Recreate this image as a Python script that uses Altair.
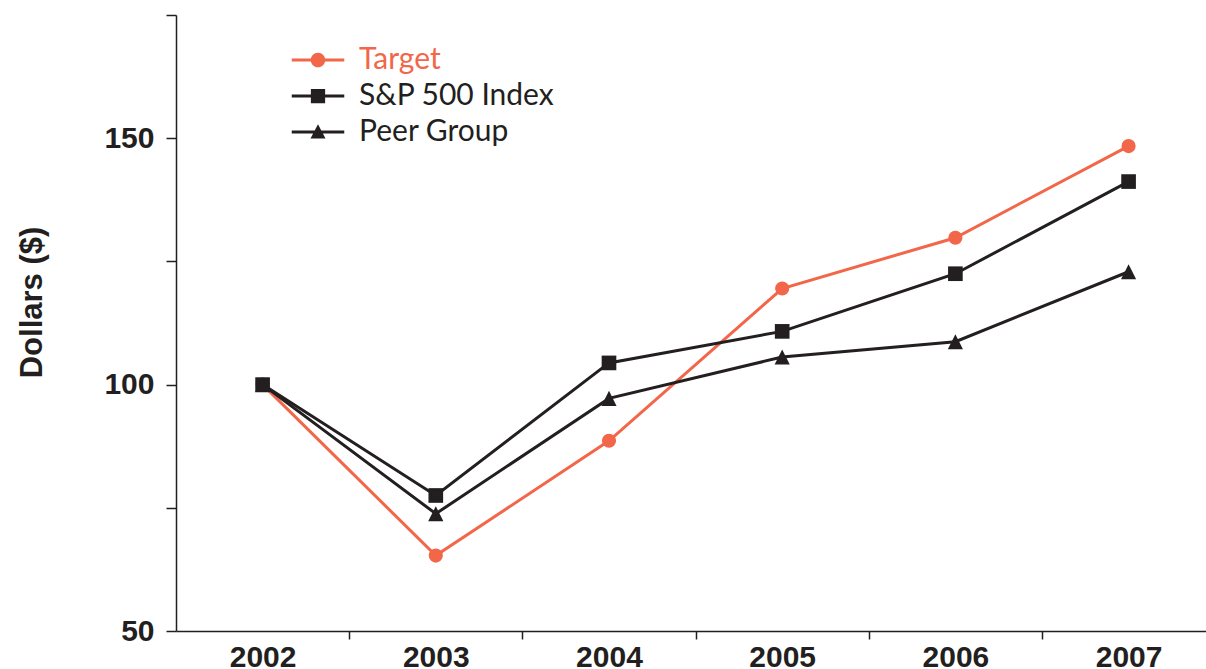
import altair as alt
import pandas as pd

years = [2002, 2003, 2004, 2005, 2006, 2007]
target = [100, 65.3, 88.6, 119.5, 129.8, 148.4]
sp500 = [100, 77.5, 104.4, 110.8, 122.5, 141.2]
peer = [100, 73.8, 97.2, 105.6, 108.7, 122.9]

series_names = ["Target", "S&P 500 Index", "Peer Group"]
series_colors = ["#F26649", "#231F20", "#231F20"]
series_shapes = ["circle", "square", "M0,-1L1,1L-1,1Z"]
shape_sizes = [200, 230, 215]

x_tick_values = [2002, 2002.5, 2003, 2003.5, 2004, 2004.5, 2005, 2005.5,
                 2006, 2006.5, 2007]
y_tick_values = [50, 75, 100, 125, 150, 175]

INK = "#231F20"
ORANGE = "#F26649"

rows = []
draw_order = [("Target", target), ("Peer Group", peer), ("S&P 500 Index", sp500)]
for i, (name, vals) in enumerate(draw_order):
    for yr, v in zip(years, vals):
        rows.append({"year": yr, "value": v, "series": name, "ord": i})
df = pd.DataFrame(rows)

# legend glyphs: line segment + marker (fill-only paths)
legend_paths = [
    "M-3.5,-0.2H3.5V0.2H-3.5ZM0.97,0A0.97,0.97 0 1,1 -0.97,0A0.97,0.97 0 1,1 0.97,0Z",
    "M-3.5,-0.2H3.5V0.2H-3.5ZM-0.95,-0.95H0.95V0.95H-0.95Z",
    "M-3.5,-0.2H3.5V0.2H-3.5ZM0,-1.05L1,0.85H-1Z",
]

color_expr = f"datum.value === 'Target' ? '{ORANGE}' : '{INK}'"

x_enc = alt.X(
    "year:Q",
    scale=alt.Scale(domain=[2001.5, 2007.447], nice=False, zero=False),
    axis=alt.Axis(
        values=x_tick_values,
        labelExpr="datum.value % 1 == 0 ? format(datum.value, 'd') : ''",
        tickOpacity={"condition": {"test": "datum.value % 1 == 0", "value": 0}, "value": 1},
        tickSize=8,
        labelPadding=3,
        labelFlush=False,
        labelOverlap=False,
        grid=False,
        title=None,
    ),
)
y_enc = alt.Y(
    "value:Q",
    scale=alt.Scale(domain=[50, 175], nice=False, zero=False),
    axis=alt.Axis(
        values=y_tick_values,
        labelExpr="datum.value % 50 == 0 ? datum.label : ''",
        tickSize=10,
        labelPadding=12,
        grid=False,
        title="Dollars ($)",
        titleX=-135,
        titleY=287,
        titleAlign="center",
        titleBaseline="alphabetic",
        titleFontSize=31,
        titleFontWeight="bold",
        titleFont="Liberation Sans",
        titleColor=INK,
    ),
)

lines = alt.Chart(df).mark_line(strokeWidth=3).encode(
    x=x_enc,
    y=y_enc,
    detail="series:N",
    order="ord:Q",
    stroke=alt.Stroke(
        "series:N",
        scale=alt.Scale(domain=series_names, range=series_colors),
        legend=None,
    ),
)

points = alt.Chart(df).mark_point(filled=True, opacity=1).encode(
    x="year:Q",
    y="value:Q",
    fill=alt.Fill(
        "series:N",
        scale=alt.Scale(domain=series_names, range=series_colors),
        legend=None,
    ),
    shape=alt.Shape(
        "series:N",
        scale=alt.Scale(domain=series_names, range=series_shapes),
        legend=None,
    ),
    size=alt.Size(
        "series:N",
        scale=alt.Scale(domain=series_names, range=shape_sizes),
        legend=None,
    ),
    order="ord:Q",
)

legend_layer = (
    alt.Chart(df)
    .mark_point(filled=True, color=alt.ExprRef(color_expr))
    .encode(
        x="year:Q",
        y="value:Q",
        shape=alt.Shape(
            "series:N",
            scale=alt.Scale(domain=series_names, range=legend_paths),
            legend=alt.Legend(
                orient="none",
                legendX=127,
                legendY=30,
                title=None,
                padding=0,
                symbolSize=225,
                symbolStrokeWidth=0,
                symbolOpacity=1,
                symbolFillColor=alt.ExprRef(color_expr),
                labelColor=alt.ExprRef(color_expr),
                labelFont="Lato",
                labelFontSize=30,
                labelOffset=26,
                labelLimit=400,
                rowPadding=6,
            ),
        ),
    )
    .transform_filter("false")
)

chart = (
    alt.layer(lines, points, legend_layer)
    .resolve_scale(shape="independent")
    .properties(
        width=1030,
        height=616,
        autosize=alt.AutoSizeParams(type="none"),
        padding={"left": 176, "top": 15, "right": 0, "bottom": 38},
    )
    .configure_view(stroke=None)
    .configure_axis(
        domainColor=INK,
        domainWidth=1.5,
        tickColor=INK,
        tickWidth=1.5,
        labelFont="Liberation Sans",
        labelFontWeight="bold",
        labelFontSize=30,
        labelColor=INK,
    )
)

chart.save("out.html", embed_options={"renderer": "svg", "actions": False})
